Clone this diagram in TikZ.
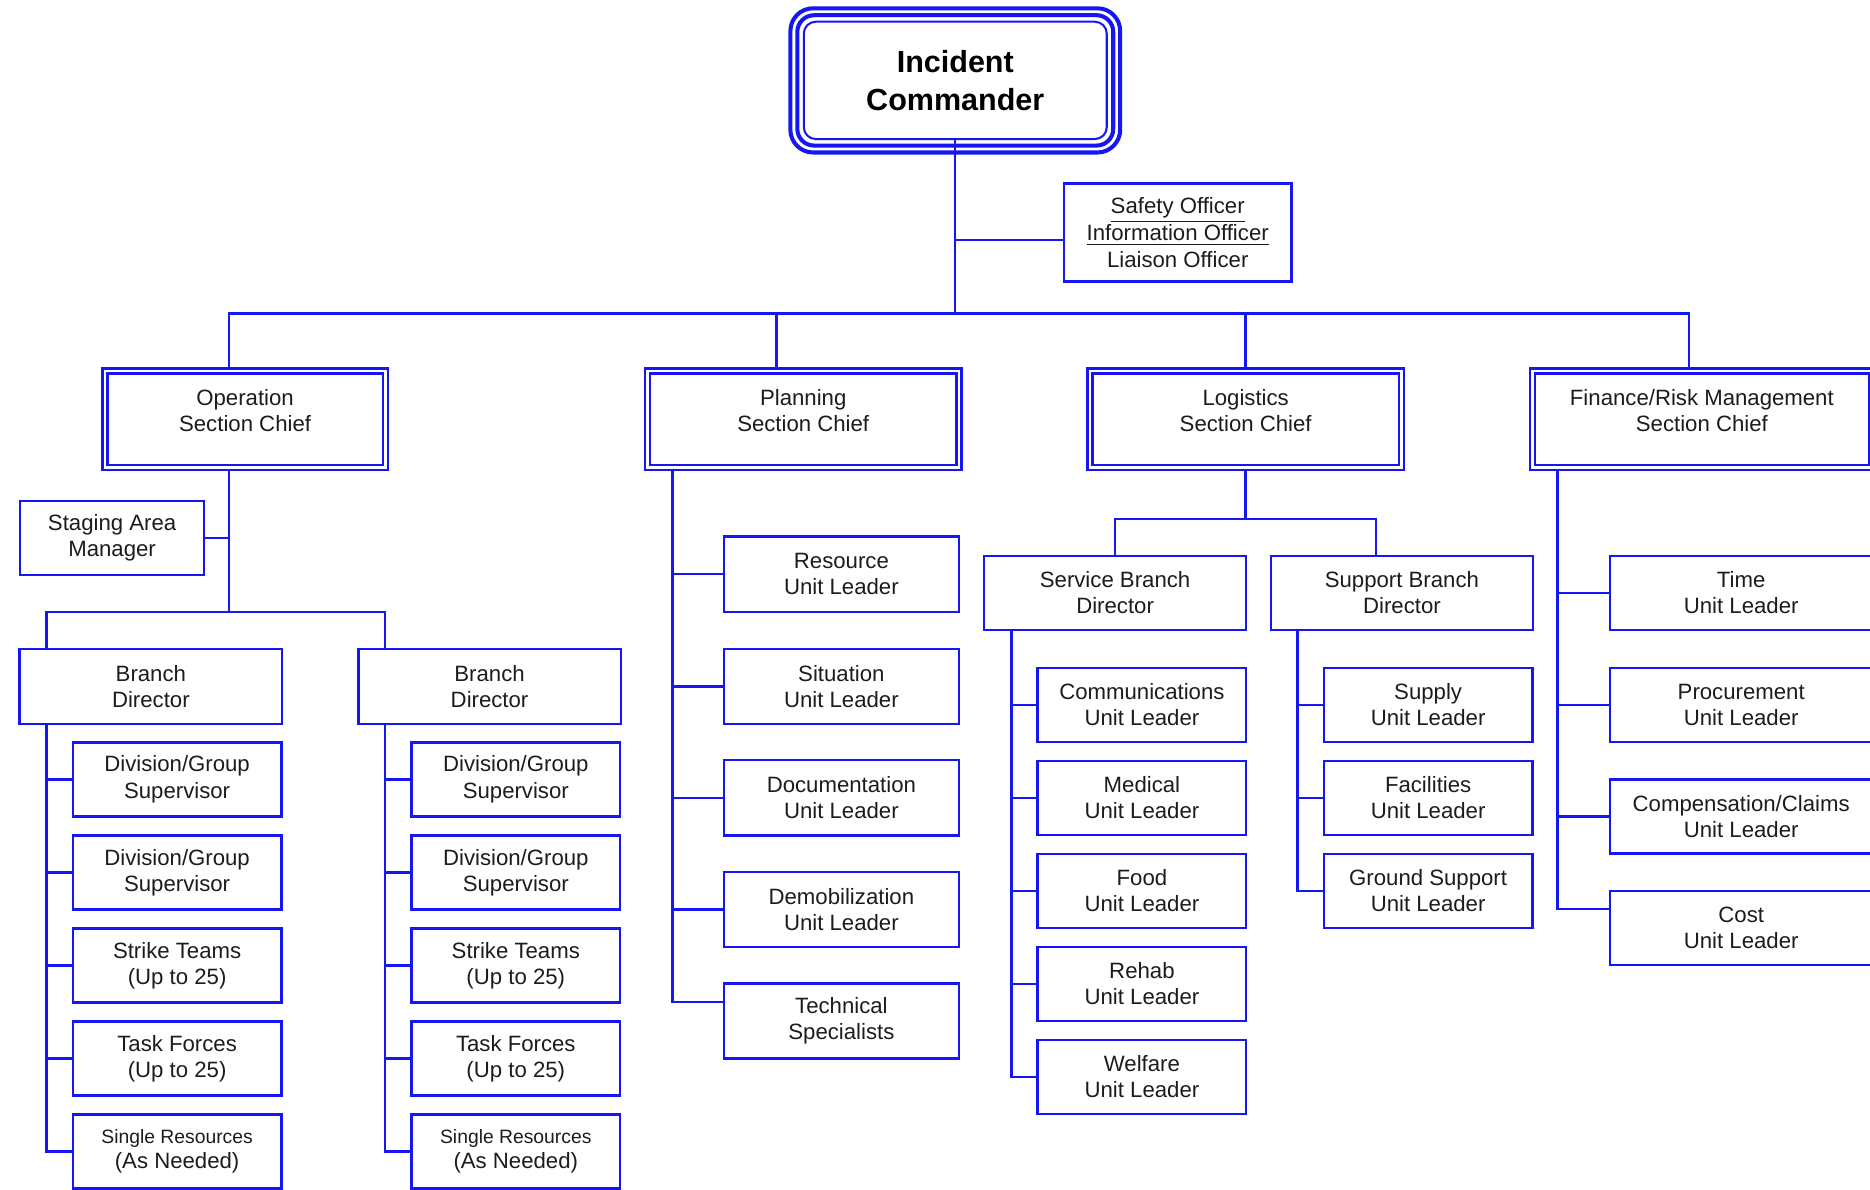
\documentclass[tikz,border=0pt]{standalone}
\usepackage{fontspec}
\setmainfont{Liberation Sans}
\definecolor{icsblue}{RGB}{22,22,245}
\definecolor{icsink}{RGB}{28,28,28}

\begin{document}
\begin{tikzpicture}
            [x=0.5pt,y=-0.5pt,
             box/.style={rectangle,draw=icsblue,line width=1pt,inner sep=0pt,align=center,text=icsink,
               font=\fontsize{9.3}{11}\selectfont,minimum width=87.5pt,minimum height=31pt},
             widebox/.style={box,minimum width=110pt},
             planbox/.style={box,minimum width=98.5pt,minimum height=31.5pt},
             chief/.style={box,line width=1pt,double=white,double distance=1.1pt,
               minimum height=40.5pt,text height=14pt,text depth=3.6pt},
             cmd/.style={rectangle,draw=icsblue,line width=0.85pt,rounded corners=5pt,inner sep=0pt,
               align=center,text=black,font=\bfseries\fontsize{12.8}{16}\selectfont,
               minimum width=127pt,minimum height=49.2pt},
             link/.style={draw=icsblue,line width=1pt}]
            \useasboundingbox (0,0) rectangle (1568,997);

            % command
            \node[cmd] (ic) at (801,67.4) {Incident\\Commander};
            \draw[icsblue,line width=1.7pt,rounded corners=7pt]
              ([shift={(-2.3pt,2.3pt)}]ic.north west) rectangle ([shift={(2.3pt,-2.3pt)}]ic.south east);
            \draw[icsblue,line width=1.7pt,rounded corners=9.5pt]
              ([shift={(-5.2pt,5.2pt)}]ic.north west) rectangle ([shift={(5.2pt,-5.2pt)}]ic.south east);
            \node[box,minimum width=95.5pt,minimum height=41pt] (staff) at (987.5,195)
              {\underline{Safety Officer}\\[0.5pt]\underline{Information Officer}\\[0.5pt]Liaison Officer};

            % sections
            \node[chief,minimum width=117.5pt] (ops) at (205.5,351.5) {Operation\\Section Chief};
            \node[chief,minimum width=130.5pt] (plan) at (673.5,351.5) {Planning\\Section Chief};
            \node[chief,minimum width=130.5pt] (logi) at (1044.5,351.5) {Logistics\\Section Chief};
            \node[chief,minimum width=142pt] (fin) at (1427,351.5) {Finance/Risk Management\\Section Chief};

            % operations
            \node[box,minimum width=77pt] (stage) at (94,451) {Staging Area\\Manager};
            \node[widebox,minimum height=31.5pt] (bd1) at (126.5,575.5) {Branch\\Director};
            \node[widebox,minimum height=31.5pt] (bd2) at (410.5,575.5) {Branch\\Director};
            \node[box] (d1a) at (148.5,653.5) {Division/Group\\Supervisor};
            \node[box] (d1b) at (148.5,731.5) {Division/Group\\Supervisor};
            \node[box] (d1c) at (148.5,809.5) {Strike Teams\\(Up to 25)};
            \node[box] (d1d) at (148.5,887.5) {Task Forces\\(Up to 25)};
            \node[box] (d1e) at (148.5,965.5) {{\fontsize{8.1}{9.7}\selectfont Single Resources}\\[-0.6pt](As Needed)};
            \node[box] (d2a) at (432.5,653.5) {Division/Group\\Supervisor};
            \node[box] (d2b) at (432.5,731.5) {Division/Group\\Supervisor};
            \node[box] (d2c) at (432.5,809.5) {Strike Teams\\(Up to 25)};
            \node[box] (d2d) at (432.5,887.5) {Task Forces\\(Up to 25)};
            \node[box] (d2e) at (432.5,965.5) {{\fontsize{8.1}{9.7}\selectfont Single Resources}\\[-0.6pt](As Needed)};

            % planning
            \node[planbox] (res) at (705.5,481.5) {Resource\\Unit Leader};
            \node[planbox] (sit) at (705.5,575.5) {Situation\\Unit Leader};
            \node[planbox] (doc) at (705.5,669) {Documentation\\Unit Leader};
            \node[planbox] (demob) at (705.5,762.5) {Demobilization\\Unit Leader};
            \node[planbox] (tech) at (705.5,856) {Technical\\Specialists};

            % logistics
            \node[widebox] (svc) at (935,497) {Service Branch\\Director};
            \node[widebox] (sup) at (1175.5,497) {Support Branch\\Director};
            \node[box] (comm) at (957.5,591) {Communications\\Unit Leader};
            \node[box] (med) at (957.5,669) {Medical\\Unit Leader};
            \node[box] (food) at (957.5,747) {Food\\Unit Leader};
            \node[box] (rehab) at (957.5,825) {Rehab\\Unit Leader};
            \node[box] (welf) at (957.5,903) {Welfare\\Unit Leader};
            \node[box] (supply) at (1197.5,591) {Supply\\Unit Leader};
            \node[box] (facil) at (1197.5,669) {Facilities\\Unit Leader};
            \node[box] (ground) at (1197.5,747) {Ground Support\\Unit Leader};

            % finance
            \node[widebox] (time) at (1460,497) {Time\\Unit Leader};
            \node[widebox] (proc) at (1460,591) {Procurement\\Unit Leader};
            \node[widebox] (comp) at (1460,684.5) {Compensation/Claims\\Unit Leader};
            \node[widebox] (cost) at (1460,778) {Cost\\Unit Leader};

            % taps and buses
            \coordinate (bus) at (801,263);
            \coordinate (opsTap) at ([xshift=-6.75pt]ops.north);
            \coordinate (planTap) at ([xshift=-11.25pt]plan.north);
            \coordinate (finTap) at ([xshift=-5.5pt]fin.north);
            \coordinate (opsFoot) at ([xshift=-6.75pt]ops.south);
            \coordinate (opsBus) at (192,513);
            \coordinate (bd1Foot) at ([xshift=-43.75pt]bd1.south);
            \coordinate (bd2Foot) at ([xshift=-43.75pt]bd2.south);
            \coordinate (bd1Tap) at ([xshift=-43.75pt]bd1.north);
            \coordinate (bd2Tap) at ([xshift=-43.75pt]bd2.north);
            \coordinate (planFoot) at ([xshift=-54.75pt]plan.south);
            \coordinate (logBus) at (1044.5,435);
            \coordinate (supTap) at ([xshift=-10.75pt]sup.north);
            \coordinate (svcFoot) at ([xshift=-43.5pt]svc.south);
            \coordinate (supFoot) at ([xshift=-43.75pt]sup.south);
            \coordinate (finFoot) at ([xshift=-60.5pt]fin.south);

            \draw[link] (ic.south) -- (bus);
            \draw[link] ([yshift=-3pt]staff.west) -- ([yshift=-3pt]staff.west -| bus);
            \draw[link] (opsTap) -- (opsTap |- bus) -- (finTap |- bus) -- (finTap);
            \draw[link] (planTap) -- (planTap |- bus);
            \draw[link] (logi.north) -- (logi.north |- bus);

            \draw[link] (opsFoot) -- (opsBus);
            \draw[link] (stage.east) -- (stage.east -| opsFoot);
            \draw[link] (bd1Tap) |- (opsBus) -| (bd2Tap);
            \draw[link] (bd1Foot) |- (d1a.west);
            \draw[link] (bd1Foot) |- (d1b.west);
            \draw[link] (bd1Foot) |- (d1c.west);
            \draw[link] (bd1Foot) |- (d1d.west);
            \draw[link] (bd1Foot) |- (d1e.west);
            \draw[link] (bd2Foot) |- (d2a.west);
            \draw[link] (bd2Foot) |- (d2b.west);
            \draw[link] (bd2Foot) |- (d2c.west);
            \draw[link] (bd2Foot) |- (d2d.west);
            \draw[link] (bd2Foot) |- (d2e.west);

            \draw[link] (planFoot) |- (res.west);
            \draw[link] (planFoot) |- (sit.west);
            \draw[link] (planFoot) |- (doc.west);
            \draw[link] (planFoot) |- (demob.west);
            \draw[link] (planFoot) |- ([yshift=8pt]tech.west);

            \draw[link] (logi.south) -- (logBus);
            \draw[link] (svc.north) |- (logBus) -| (supTap);
            \draw[link] (svcFoot) |- (comm.west);
            \draw[link] (svcFoot) |- (med.west);
            \draw[link] (svcFoot) |- (food.west);
            \draw[link] (svcFoot) |- (rehab.west);
            \draw[link] (svcFoot) |- (welf.west);
            \draw[link] (supFoot) |- (supply.west);
            \draw[link] (supFoot) |- (facil.west);
            \draw[link] (supFoot) |- (ground.west);

            \draw[link] (finFoot) |- (time.west);
            \draw[link] (finFoot) |- (proc.west);
            \draw[link] (finFoot) |- (comp.west);
            \draw[link] (finFoot) |- ([yshift=8pt]cost.west);
          \end{tikzpicture}
\end{document}
